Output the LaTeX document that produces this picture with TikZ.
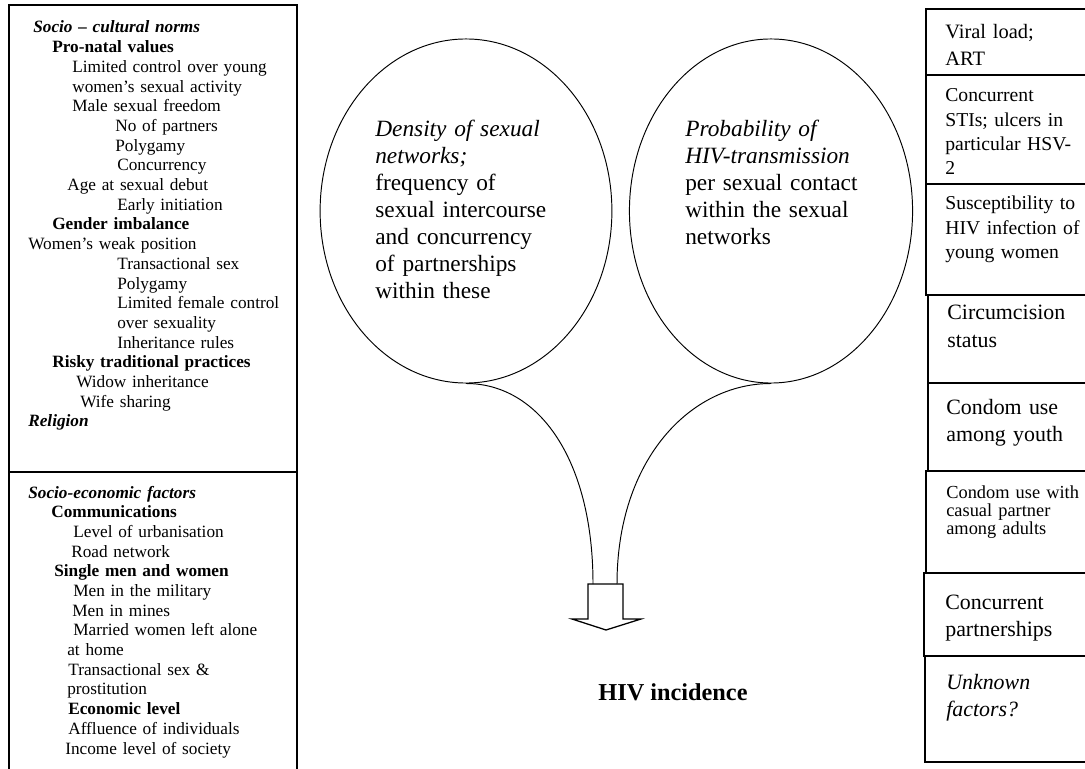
\documentclass[tikz,border=0pt]{standalone}
\usepackage{fontspec}
\setmainfont{Liberation Serif}
\usetikzlibrary{shapes.geometric,positioning}
\newlength\pxu
\setlength\pxu{0.022cm}
\newcommand\ind[1]{\hspace*{#1\pxu}}
\tikzset{
    frame/.style={line width=0.8pt},
    blob/.style={ellipse, draw, line width=0.6pt, inner sep=0pt},
    lefttxt/.style={anchor=base west, inner sep=0pt, text width=6cm, align=left,
        font=\fontsize{10.8}{12.33}\selectfont},
    blobtxt/.style={anchor=base west, inner sep=0pt, text width=5cm, align=left,
        font=\fontsize{14.6}{16.9}\selectfont},
    boxtxt/.style={anchor=base west, inner sep=0pt, text width=3.5cm, align=left,
        font=\fontsize{12.8}{16.6}\selectfont},
    tighttxt/.style={boxtxt, font=\fontsize{12.3}{15.2}\selectfont},
    bigtxt/.style={boxtxt, font=\fontsize{13.7}{17}\selectfont},
    smalltxt/.style={boxtxt, font=\fontsize{11.5}{11.3}\selectfont}
}
\begin{document}
\begin{tikzpicture}[x=0.022cm, y=-0.022cm]
  \useasboundingbox (0,0) rectangle (1085,769);

  % left column
  \draw[frame] (9,5) rectangle (297,790);
  \draw[frame] (9,472) -- (297,472);
  \node[lefttxt] (norms) at (28,33) {%
    \ind{5}\textbf{\textit{Socio – cultural norms}}\\
    \ind{24}\textbf{Pro-natal values}\\
    \ind{44}Limited control over young\\
    \ind{44}women's sexual activity\\
    \ind{44}Male sexual freedom\\
    \ind{87}No of partners\\
    \ind{87}Polygamy\\
    \ind{89}Concurrency\\
    \ind{39}Age at sexual debut\\
    \ind{89}Early initiation\\
    \ind{24}\textbf{Gender imbalance}\\
    Women's weak position\\
    \ind{89}Transactional sex\\
    \ind{89}Polygamy\\
    \ind{89}Limited female control\\
    \ind{89}over sexuality\\
    \ind{89}Inheritance rules\\
    \ind{24}\textbf{Risky traditional practices}\\
    \ind{48}Widow inheritance\\
    \ind{52}Wife sharing\\
    \textbf{\textit{Religion}}};
  \node[lefttxt] (econ) at (28,498) {%
    \textbf{\textit{Socio-economic factors}}\\
    \ind{23}\textbf{Communications}\\
    \ind{45}Level of urbanisation\\
    \ind{43}Road network\\
    \ind{26}\textbf{Single men and women}\\
    \ind{45}Men in the military\\
    \ind{44}Men in mines\\
    \ind{45}Married women left alone\\
    \ind{39}at home\\
    \ind{40}Transactional sex \&\\
    \ind{39}prostitution\\
    \ind{40}\textbf{Economic level}\\
    \ind{40}Affluence of individuals\\
    \ind{37}Income level of society};

  % the two networks
  \node[blob, minimum width=6.42cm, minimum height=7.57cm] (netL) at (466,211) {};
  \node[blob, minimum width=6.23cm, minimum height=7.57cm] (netR) at (771,211) {};
  \node[blobtxt] (densT) at (375,137) {%
    \textit{Density of sexual}\\
    \textit{networks;}\\
    frequency of\\
    sexual intercourse\\
    and concurrency\\
    of partnerships\\
    within these};
  \node[blobtxt] (probT) at (685,137) {%
    \textit{Probability of}\\
    \textit{HIV-transmission}\\
    per sexual contact\\
    within the sexual\\
    networks};

  % arrow down
  \draw[frame] (588,584) -- (588,619) -- (572,619) -- (606,630) -- (641,619)
    -- (623,619) -- (623,584) -- cycle;
  \coordinate (inL) at (593,584);
  \coordinate (inR) at (617,584);
  \draw[line width=0.6pt] (netL.south) .. controls +(73,0) and +(0,-124) .. (inL);
  \draw[line width=0.6pt] (netR.south) .. controls +(-81,0) and +(0,-124) .. (inR);

  \node[font=\fontsize{15.2}{18}\selectfont\bfseries] (hiv) at (673,692) {HIV incidence};

  % right column
  \foreach \ya/\yb/\xl in {9/75/926, 75/184/926, 184/295/926, 295/383/928,
      383/471/928, 471/573/926, 573/656/924, 656/762/925}
    \draw[frame] (\xl,\ya) rectangle (1095,\yb);
  \node[boxtxt] (viral) at (945,39) {Viral load;\\ART};
  \node[tighttxt] (sti) at (945,102) {Concurrent\\STIs; ulcers in\\particular HSV-\\2};
  \node[tighttxt] (susc) at (945,210) {Susceptibility to\\HIV infection of\\young women};
  \node[bigtxt] (circ) at (947,320) {Circumcision\\status};
  \node[bigtxt] (youth) at (946,414) {Condom use\\among youth};
  \node[smalltxt] (casual) at (946,498) {Condom use with\\casual partner\\among adults};
  \node[bigtxt] (concp) at (945,609) {Concurrent\\partnerships};
  \node[bigtxt] (unkn) at (946,689) {\textit{Unknown}\\\textit{factors?}};
\end{tikzpicture}
\end{document}
